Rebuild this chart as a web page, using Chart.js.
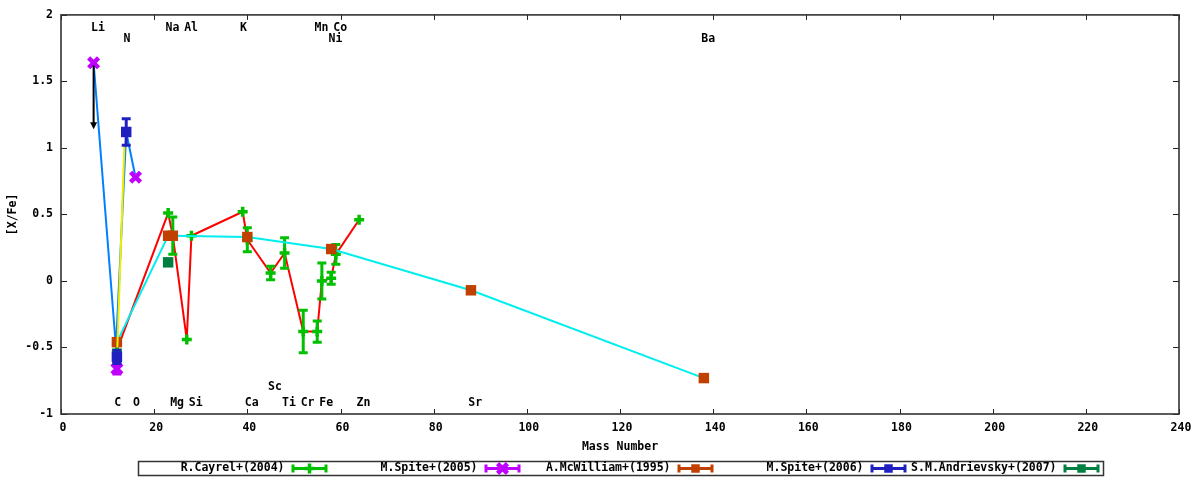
<!DOCTYPE html>
<html><head><meta charset="utf-8">
<script src="https://cdn.jsdelivr.net/npm/chart.js@4.4.1/dist/chart.umd.min.js"></script>
<style>html,body{margin:0;padding:0;background:#fff;}#wrap{width:1200px;height:480px;position:relative;}</style>
</head><body><div id="wrap"><canvas id="c"></canvas></div>
<script>
const FONT = '"DejaVu Sans Mono", "Liberation Mono", monospace';

// ---- data ----
// R.Cayrel+(2004)
const cayrelMass = [12, 23, 24, 27, 28, 39, 40, 45, 48, 52, 55, 56, 58, 59, 64];
const cayrelVal  = [-0.52, 0.51, 0.34, -0.44, 0.34, 0.52, 0.31, 0.06, 0.21, -0.38, -0.38, 0.00, 0.02, 0.20, 0.46];
const cayrelErr  = [0, 0, 0.14, 0, 0, 0, 0.09, 0.05, 0.115, 0.16, 0.08, 0.135, 0.045, 0.075, 0];
// M.Spite+(2005)
const spite05Mass = [7, 12, 16];
const spite05Val  = [1.64, -0.66, 0.78];
const spite05Err  = [0, 0.04, 0];
// A.McWilliam+(1995)
const mcwMass = [12, 23, 24, 40, 58, 88, 138];
const mcwVal  = [-0.46, 0.34, 0.34, 0.33, 0.24, -0.07, -0.73];
// M.Spite+(2006)
const spite06Mass = [12, 14];
const spite06Val  = [-0.57, 1.12];
const spite06Err  = [0.05, 0.10];
// S.M.Andrievsky+(2007)
const andrMass = [23];
const andrVal  = [0.14];
// extra connecting lines
const blueLineMass = [7, 11.8, 14, 16];
const blueLineVal  = [1.64, -0.50, 1.12, 0.78];
const yellowLineMass = [12.1, 13.6];
const yellowLineVal  = [-0.50, 1.01];
// upper-limit arrow (Li)
const arrowMass = [7];
const arrowFrom = [1.62];
const arrowTo   = [1.14];
// element labels
const elemNames = ['Li','Na','Al','K','Mn','Co','N','Ni','Ba','C','O','Mg','Si','Ca','Ti','Cr','Fe','Zn','Sr','Sc'];
const elemMass  = [7, 23, 27, 39, 55, 59, 14, 58, 138, 12, 16, 24, 28, 40, 48, 52, 56, 64, 88, 45];
const elemY     = [1.9, 1.9, 1.9, 1.9, 1.9, 1.9, 1.815, 1.815, 1.815, -0.92, -0.92, -0.92, -0.92, -0.92, -0.92, -0.92, -0.92, -0.92, -0.92, -0.80];
// axes
const xMin = 0, xMax = 240, xStep = 20;
const yMin = -1, yMax = 2, yStep = 0.5;

const pts = (xs, ys) => xs.map((x, i) => ({x: x, y: ys[i]}));

const GREEN = '#00c000', MAGENTA = '#c000ff', BROWN = '#c04000', NAVY = '#2020c0', DKGREEN = '#008040';

const datasets = [
  {label: 'line1', data: pts(cayrelMass, cayrelVal), showLine: true, borderColor: '#ff0000', borderWidth: 2, pointRadius: 0, order: 9},
  {label: 'R.Cayrel+(2004)', inLegend: true, data: pts(cayrelMass, cayrelVal), errors: cayrelErr, showLine: false,
   pointStyle: 'cross', pointRadius: 5, pointBorderWidth: 3.5, pointBorderColor: GREEN, pointBackgroundColor: GREEN, borderColor: GREEN, backgroundColor: GREEN, order: 8},
  {label: 'line2', data: pts(blueLineMass, blueLineVal), showLine: true, borderColor: '#0080ff', borderWidth: 2, pointRadius: 0, order: 7},
  {label: 'M.Spite+(2005)', inLegend: true, data: pts(spite05Mass, spite05Val), errors: spite05Err, showLine: false,
   pointStyle: 'crossRot', pointRadius: 7, pointBorderWidth: 4.5, pointBorderColor: MAGENTA, pointBackgroundColor: MAGENTA, borderColor: MAGENTA, backgroundColor: MAGENTA, order: 6},
  {label: 'line3', data: pts(mcwMass, mcwVal), showLine: true, borderColor: '#00eeee', borderWidth: 2, pointRadius: 0, order: 5},
  {label: 'A.McWilliam+(1995)', inLegend: true, data: pts(mcwMass, mcwVal), showLine: false,
   pointStyle: 'rect', pointRadius: 7.4, pointBorderWidth: 0, pointBorderColor: BROWN, pointBackgroundColor: BROWN, borderColor: BROWN, backgroundColor: BROWN, order: 4},
  {label: 'line4', data: pts(yellowLineMass, yellowLineVal), showLine: true, borderColor: '#eeee00', borderWidth: 2, pointRadius: 0, order: 3},
  {label: 'M.Spite+(2006)', inLegend: true, data: pts(spite06Mass, spite06Val), errors: spite06Err, showLine: false,
   pointStyle: 'rect', pointRadius: 7.4, pointBorderWidth: 0, pointBorderColor: NAVY, pointBackgroundColor: NAVY, borderColor: NAVY, backgroundColor: NAVY, order: 2},
  {label: 'S.M.Andrievsky+(2007)', inLegend: true, data: pts(andrMass, andrVal), showLine: false,
   pointStyle: 'rect', pointRadius: 7.4, pointBorderWidth: 0, pointBorderColor: DKGREEN, pointBackgroundColor: DKGREEN, borderColor: DKGREEN, backgroundColor: DKGREEN, order: 1}
];

const errorBars = {
  id: 'errorBars',
  afterDatasetDraw(chart, args) {
    const ds = chart.data.datasets[args.index];
    if (!ds.errors) return;
    const ctx = chart.ctx, xs = chart.scales.x, ys = chart.scales.y;
    ctx.save();
    ctx.strokeStyle = ds.pointBorderColor; ctx.lineWidth = 3; ctx.lineCap = 'butt';
    ds.data.forEach((p, i) => {
      const e = ds.errors[i]; if (!e) return;
      const px = xs.getPixelForValue(p.x);
      const y1 = ys.getPixelForValue(p.y - e), y2 = ys.getPixelForValue(p.y + e);
      ctx.beginPath();
      ctx.moveTo(px, y1); ctx.lineTo(px, y2);
      ctx.moveTo(px - 4.5, y1); ctx.lineTo(px + 4.5, y1);
      ctx.moveTo(px - 4.5, y2); ctx.lineTo(px + 4.5, y2);
      ctx.stroke();
    });
    ctx.restore();
  }
};

const annotations = {
  id: 'annotations',
  afterDatasetsDraw(chart) {
    const ctx = chart.ctx, xs = chart.scales.x, ys = chart.scales.y;
    ctx.save();
    ctx.strokeStyle = '#000'; ctx.fillStyle = '#000'; ctx.lineWidth = 2;
    arrowMass.forEach((m, i) => {
      const px = xs.getPixelForValue(m), ya = ys.getPixelForValue(arrowFrom[i]), yb = ys.getPixelForValue(arrowTo[i]);
      ctx.beginPath(); ctx.moveTo(px, ya); ctx.lineTo(px, yb - 5); ctx.stroke();
      ctx.beginPath(); ctx.moveTo(px, yb); ctx.lineTo(px - 3.5, yb - 7); ctx.lineTo(px + 3.5, yb - 7); ctx.closePath(); ctx.fill();
    });
    ctx.font = 'bold 11.5px ' + FONT;
    ctx.textAlign = 'left'; ctx.textBaseline = 'middle';
    elemNames.forEach((n, i) => {
      ctx.fillText(n, xs.getPixelForValue(elemMass[i]) - 2.6, ys.getPixelForValue(elemY[i]));
    });
    ctx.restore();
  }
};

const frame = {
  id: 'frame',
  afterDraw(chart) {
    const ctx = chart.ctx, a = chart.chartArea, xs = chart.scales.x, ys = chart.scales.y;
    ctx.save();
    ctx.strokeStyle = '#222'; ctx.lineWidth = 1;
    ctx.beginPath();
    xs.ticks.forEach(t => {
      const px = Math.round(xs.getPixelForValue(t.value)) + 0.5;
      ctx.moveTo(px, a.bottom); ctx.lineTo(px, a.bottom - 5);
      ctx.moveTo(px, a.top); ctx.lineTo(px, a.top + 5);
    });
    ys.ticks.forEach(t => {
      const py = Math.round(ys.getPixelForValue(t.value)) + 0.5;
      ctx.moveTo(a.left, py); ctx.lineTo(a.left + 6, py);
      ctx.moveTo(a.right, py); ctx.lineTo(a.right - 6, py);
    });
    ctx.stroke();
    ctx.lineWidth = 1.6; ctx.strokeStyle = '#333';
    ctx.strokeRect(a.left, a.top, a.right - a.left, a.bottom - a.top);

    // legend
    const entries = chart.data.datasets.filter(d => d.inLegend);
    const entryW = 193, n = entries.length;
    const cx = (a.left + a.right) / 2;
    const left = Math.round(cx - entryW * n / 2) + 0.5, top = 461.5, h = 14;
    ctx.lineWidth = 1.5; ctx.strokeStyle = '#333';
    ctx.strokeRect(left, top, entryW * n, h);
    const yc = top + h / 2;
    ctx.font = 'bold 11.5px ' + FONT; ctx.textAlign = 'right'; ctx.textBaseline = 'middle';
    entries.forEach((d, i) => {
      const x0 = left + entryW * i;
      ctx.fillStyle = '#000';
      ctx.fillText(d.label, x0 + 146, yc);
      const s1 = x0 + 153, s2 = x0 + 189;
      ctx.strokeStyle = d.pointBorderColor; ctx.fillStyle = d.pointBackgroundColor; ctx.lineWidth = 3;
      ctx.beginPath();
      ctx.moveTo(s1, yc); ctx.lineTo(s2, yc);
      ctx.moveTo(s1 + 1.5, yc - 4); ctx.lineTo(s1 + 1.5, yc + 4);
      ctx.moveTo(s2 - 1.5, yc - 4); ctx.lineTo(s2 - 1.5, yc + 4);
      ctx.stroke();
      ctx.lineWidth = d.pointBorderWidth || 1;
      Chart.helpers.drawPoint(ctx, {pointStyle: d.pointStyle, radius: d.pointStyle === 'rect' ? 6 : d.pointRadius, rotation: 0, borderWidth: d.pointBorderWidth}, (s1 + s2) / 2, yc);
    });
    ctx.restore();
  }
};

Chart.defaults.font.family = FONT;
Chart.defaults.font.size = 11.5;
Chart.defaults.font.weight = 'bold';
Chart.defaults.color = '#000';

const fmt = v => String(parseFloat(Number(v).toFixed(3)));

new Chart(document.getElementById('c'), {
  type: 'scatter',
  data: {datasets: datasets},
  options: {
    responsive: true, maintainAspectRatio: false, animation: false, devicePixelRatio: 1,
    events: [],
    layout: {padding: {top: 13, right: 21, left: 0, bottom: 0}},
    plugins: {legend: {display: false}, tooltip: {enabled: false}},
    elements: {line: {tension: 0, fill: false}},
    scales: {
      x: {
        type: 'linear', min: xMin, max: xMax,
        ticks: {stepSize: xStep, padding: 7, labelOffset: 2, color: '#000', callback: fmt},
        grid: {display: false, drawTicks: false},
        border: {display: false},
        title: {display: true, text: 'Mass Number', color: '#000', padding: {top: 0, bottom: 26}},
        afterFit(s) { s.height = 66; }
      },
      y: {
        type: 'linear', min: yMin, max: yMax,
        ticks: {stepSize: yStep, padding: 8, color: '#000', callback: fmt},
        grid: {display: false, drawTicks: false},
        border: {display: false},
        title: {display: true, text: '[X/Fe]', color: '#000', padding: {top: 6, bottom: 0}},
        afterFit(s) { s.width = 61; }
      }
    }
  },
  plugins: [errorBars, annotations, frame]
});
</script>
</body></html>
